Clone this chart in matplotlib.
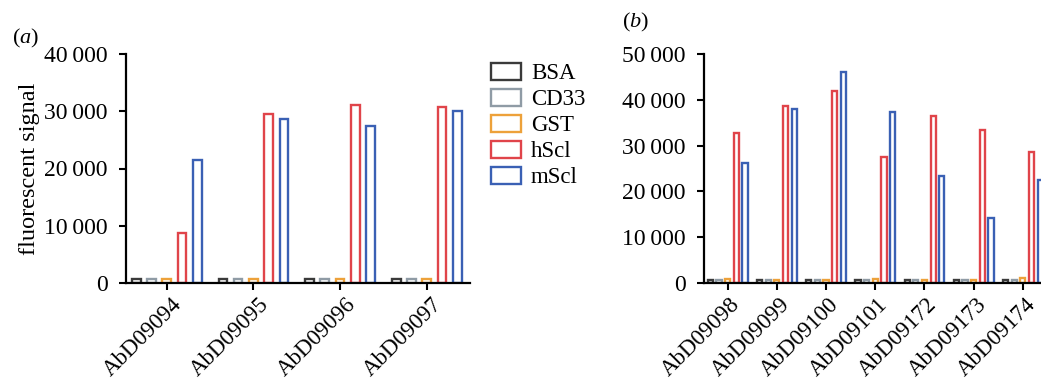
import matplotlib
matplotlib.use("Agg")
import matplotlib.pyplot as plt
from matplotlib.patches import Patch
from matplotlib.ticker import FuncFormatter
from matplotlib.transforms import ScaledTranslation
import numpy as np

plt.rcParams['font.family'] = ['Liberation Serif', 'DejaVu Serif']
plt.rcParams['mathtext.fontset'] = 'custom'
plt.rcParams['mathtext.it'] = 'Liberation Serif:italic'
plt.rcParams['mathtext.rm'] = 'Liberation Serif'

series = ["BSA", "CD33", "GST", "hScl", "mScl"]
colors = ["#3a3a3a", "#8f9ba5", "#eda13a", "#e0444a", "#3a60b4"]

cats_a = ["AbD09094", "AbD09095", "AbD09096", "AbD09097"]
vals_a = {
    "BSA":  [700, 700, 700, 650],
    "CD33": [700, 700, 700, 700],
    "GST":  [700, 700, 700, 700],
    "hScl": [8800, 29500, 31100, 30800],
    "mScl": [21400, 28700, 27500, 30100],
}

cats_b = ["AbD09098", "AbD09099", "AbD09100", "AbD09101", "AbD09172", "AbD09173", "AbD09174"]
vals_b = {
    "BSA":  [700, 700, 700, 700, 700, 700, 700],
    "CD33": [700, 700, 700, 700, 700, 700, 700],
    "GST":  [800, 700, 700, 800, 700, 700, 1000],
    "hScl": [32800, 38600, 42000, 27500, 36400, 33500, 28600],
    "mScl": [26100, 37900, 46000, 37400, 23400, 14100, 22400],
}

W, H = 1041, 380
fig = plt.figure(figsize=(W / 100, H / 100), dpi=100)

def fmt(v, pos):
    v = int(round(v))
    if v == 0:
        return "0"
    return f"{v:,}".replace(",", "\u2009")

def draw(ax, cats, vals, step, width, ylim, yticks, dx):
    x = np.arange(len(cats))
    for i, (s, c) in enumerate(zip(series, colors)):
        ax.bar(x + (i - 2) * step, vals[s], width=width, facecolor="white",
               edgecolor=c, linewidth=1.7, zorder=3)
    ax.set_ylim(*ylim)
    ax.set_yticks(yticks)
    ax.yaxis.set_major_formatter(FuncFormatter(fmt))
    ax.set_xticks(x)
    ax.set_xticklabels(cats, rotation=45, ha="right", rotation_mode="anchor")
    for sp in ["top", "right"]:
        ax.spines[sp].set_visible(False)
    for sp in ["left", "bottom"]:
        ax.spines[sp].set_linewidth(1.6)
        ax.spines[sp].set_zorder(4)
    ax.tick_params(axis="both", direction="out", length=5, width=1.5, labelsize=17)
    ax.tick_params(axis="x", labelsize=16.5, pad=3)
    ax.tick_params(axis="y", pad=8)
    off = ScaledTranslation(dx / 100, 0, fig.dpi_scale_trans)
    for lab in ax.get_xticklabels():
        lab.set_transform(lab.get_transform() + off)

ax1 = fig.add_axes([126 / W, 1 - 283 / H, 344 / W, 229 / H])
draw(ax1, cats_a, vals_a, 0.176, 0.10, (0, 40000), [0, 10000, 20000, 30000, 40000], 5)
ax1.set_xlim(-0.47, 3.5)
ax1.set_ylabel("fluorescent signal", fontsize=17.5, labelpad=3)

ax2 = fig.add_axes([704 / W, 1 - 283 / H, 343.5 / W, 229 / H])
draw(ax2, cats_b, vals_b, 0.176, 0.105, (0, 50000), [0, 10000, 20000, 30000, 40000, 50000], 2)
ax2.set_xlim(-0.48, 6.5)

fig.text(12 / W, 1 - 38 / H, "($\\mathit{a}$)", fontsize=16, va="center", ha="left")
fig.text(622 / W, 1 - 22 / H, "($\\mathit{b}$)", fontsize=16, va="center", ha="left")

handles = [Patch(facecolor="white", edgecolor=c, linewidth=1.7) for c in colors]
fig.legend(handles, series, loc="upper left", bbox_to_anchor=(484 / W, 1 - 56 / H),
           frameon=False, fontsize=16.5, handlelength=1.3, handleheight=0.75,
           handletextpad=0.45, labelspacing=0.2, borderaxespad=0, borderpad=0.3)

fig.savefig("out.png", dpi=100)
